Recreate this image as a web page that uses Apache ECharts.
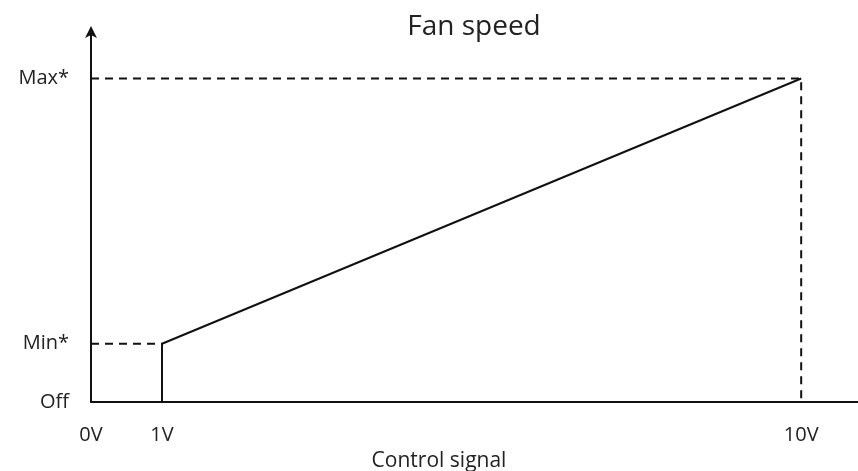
<!DOCTYPE html>
<html>
<head>
<meta charset="utf-8">
<script src="https://cdn.jsdelivr.net/npm/echarts@6/dist/echarts.min.js"></script>
<style>html,body{margin:0;padding:0;background:#fff}#c{width:858px;height:471px}</style>
</head>
<body>
<div id="c"></div>
<script>
// Control signal in volts, fan speed in % of max
const xTickValues = [0, 1, 10];
const xTickLabels = ['0V', '1V', '10V'];
const yTickValues = [0, 18, 100];
const yTickLabels = ['Off', 'Min*', 'Max*'];
const speedCurve = [[1, 0], [1, 18], [10, 100]];
const minGuide = [[0, 18], [1, 18]];
const maxGuide = [[0, 100], [10, 100], [10, 0]];

const chart = echarts.init(document.getElementById('c'), null, {renderer: 'canvas'});
const font = '"Open Sans", "Noto Sans", sans-serif';
const ink = '#111';

chart.setOption({
  animation: false,
  title: [
    {text: 'Fan speed', left: 469, top: 8, textAlign: 'center',
     textStyle: {fontFamily: font, fontSize: 28, fontWeight: 'normal', color: '#222'}},
    {text: 'Control signal', left: 434, top: 446, textAlign: 'center',
     textStyle: {fontFamily: font, fontSize: 21, fontWeight: 'normal', color: '#222'}}
  ],
  grid: {left: 91, right: 0, top: 30, bottom: 69, containLabel: false},
  xAxis: {
    type: 'value', min: 0, max: 10.8,
    splitLine: {show: false},
    axisLine: {lineStyle: {color: ink, width: 2}},
    axisTick: {show: false},
    axisLabel: {
      customValues: xTickValues,
      formatter: v => xTickLabels[xTickValues.indexOf(v)],
      margin: 23, fontFamily: font, fontSize: 20, color: '#222'
    }
  },
  yAxis: {
    type: 'value', min: 0, max: 115,
    splitLine: {show: false},
    axisLine: {show: true, onZero: false, symbol: ['none', 'arrow'], symbolSize: [9, 12], symbolOffset: [0, 4],
      lineStyle: {color: ink, width: 2}},
    axisTick: {show: false},
    axisLabel: {
      customValues: yTickValues,
      formatter: v => yTickLabels[yTickValues.indexOf(v)],
      margin: 22, fontFamily: font, fontSize: 20, color: '#222'
    }
  },
  series: [
    {type: 'line', data: speedCurve, symbol: 'none', lineStyle: {color: ink, width: 2}},
    {type: 'line', data: minGuide, symbol: 'none', lineStyle: {color: ink, width: 2, type: [8, 6]}},
    {type: 'line', data: maxGuide, symbol: 'none', lineStyle: {color: ink, width: 2, type: [8, 6]}}
  ]
});
</script>
</body>
</html>
